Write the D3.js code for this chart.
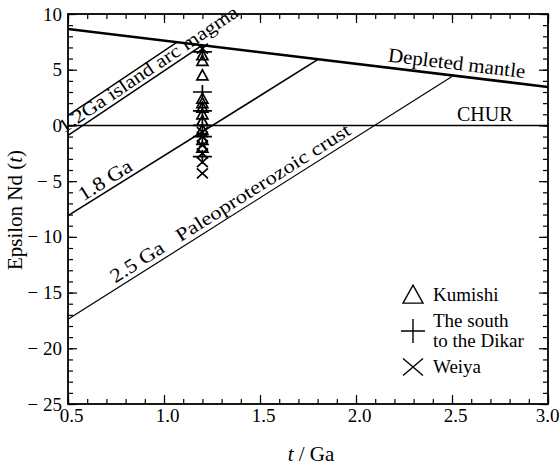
<!DOCTYPE html>
<html>
<head>
<meta charset="utf-8">
<script src="https://cdn.jsdelivr.net/npm/d3@7"></script>
<style>
  body { margin: 0; background: #fff; }
  svg { display: block; }
  text { font-family: "Liberation Serif", "Times New Roman", serif; fill: #000; }
</style>
</head>
<body>
<div id="chart"></div>
<script>
// reference lines (t in Ga, epsilon Nd)
const dmT = [0.5, 3.0], dmE = [8.65, 3.45];
const churT = [0.5, 3.0], churE = [0, 0];
const arcLowT = [0.5, 1.2], arcLowE = [-0.9, 7.2];
const arcHighT = [0.5, 1.07], arcHighE = [0.9, 7.5];
const ga18T = [0.5, 1.8], ga18E = [-8.1, 5.9];
const ga25T = [0.5, 2.5], ga25E = [-17.4, 4.4];

// samples, all at 1.2 Ga
const sampleT = 1.2;
const kumishiE = [6.3, 5.8, 4.5, 2.4, 2.0, 1.6, 1.0, 0.4, -0.4, -1.3, -2.0];
const dikarE = [6.6, 3.0, 1.3, 0.0, -1.0, -2.8];
const weiyaE = [6.9, -0.6, -1.0, -1.8, -2.5, -3.3, -4.3];

const xMajor = [0.5, 1.0, 1.5, 2.0, 2.5, 3.0];
const xMinor = d3.range(5, 31).map(d => d / 10);
const yMajor = [-25, -20, -15, -10, -5, 0, 5, 10];
const yMinor = d3.range(-25, 11);

const width = 560, height = 465;
const box = { left: 68, right: 548, top: 14, bottom: 404 };

const x = d3.scaleLinear().domain([0.5, 3.0]).range([box.left, box.right]);
const y = d3.scaleLinear().domain([-25, 10]).range([box.bottom, box.top]);

const svg = d3.select("#chart").append("svg")
  .attr("width", width)
  .attr("height", height);

svg.append("clipPath").attr("id", "plot")
  .append("rect")
  .attr("x", box.left).attr("y", box.top)
  .attr("width", box.right - box.left).attr("height", box.bottom - box.top);

// axes, ticks pointing inward
function tickAxis(axis, pos, vertical) {
  const g = svg.append("g")
    .attr("transform", vertical ? `translate(${pos},0)` : `translate(0,${pos})`)
    .call(axis);
  g.select(".domain").remove();
  g.selectAll("line").attr("stroke", "#000").attr("stroke-width", 1.2);
  g.attr("font-family", null).attr("font-size", 19);
  return g;
}

tickAxis(d3.axisBottom(x).tickValues(xMinor).tickSizeInner(-5).tickSizeOuter(0).tickFormat(""), box.bottom);
tickAxis(d3.axisBottom(x).tickValues(xMajor).tickSizeInner(-9).tickSizeOuter(0).tickPadding(5)
  .tickFormat(d3.format(".1f")), box.bottom)
  .selectAll("text")
  .attr("text-anchor", d => d === 3.0 ? "end" : "middle")
  .attr("dx", d => d === 3.0 ? 11 : 3);
tickAxis(d3.axisTop(x).tickValues(xMinor).tickSizeInner(-5).tickSizeOuter(0).tickFormat(""), box.top);
tickAxis(d3.axisTop(x).tickValues(xMajor).tickSizeInner(-9).tickSizeOuter(0).tickFormat(""), box.top);

tickAxis(d3.axisLeft(y).tickValues(yMinor).tickSizeInner(-5).tickSizeOuter(0).tickFormat(""), box.left, true);
tickAxis(d3.axisLeft(y).tickValues(yMajor).tickSizeInner(-9).tickSizeOuter(0).tickPadding(6)
  .tickFormat(d => d < 0 ? "\u2212 " + Math.abs(d) : d), box.left, true);
tickAxis(d3.axisRight(y).tickValues(yMinor).tickSizeInner(-5).tickSizeOuter(0).tickFormat(""), box.right, true);
tickAxis(d3.axisRight(y).tickValues(yMajor).tickSizeInner(-9).tickSizeOuter(0).tickFormat(""), box.right, true);

svg.append("rect")
  .attr("x", box.left).attr("y", box.top)
  .attr("width", box.right - box.left).attr("height", box.bottom - box.top)
  .attr("fill", "none").attr("stroke", "#000").attr("stroke-width", 1.8);

// evolution lines
const line = d3.line().x(d => x(d[0])).y(d => y(d[1]));
const lines = svg.append("g").attr("clip-path", "url(#plot)").attr("fill", "none").attr("stroke", "#000");

lines.append("path").attr("d", line(d3.zip(churT, churE))).attr("stroke-width", 1.6);
lines.append("path").attr("d", line(d3.zip(dmT, dmE))).attr("stroke-width", 2.6);
lines.append("path").attr("d", line(d3.zip(arcLowT, arcLowE))).attr("stroke-width", 1.6);
lines.append("path").attr("d", line(d3.zip(arcHighT, arcHighE))).attr("stroke-width", 1.4);
lines.append("path").attr("d", line(d3.zip(ga18T, ga18E))).attr("stroke-width", 1.6);
lines.append("path").attr("d", line(d3.zip(ga25T, ga25E))).attr("stroke-width", 1.2);

// label sitting along a line
function lineLabel(text, T, E, t0, offset, size, len) {
  const x1 = x(T[0]), y1 = y(E[0]), x2 = x(T[1]), y2 = y(E[1]);
  const ang = Math.atan2(y2 - y1, x2 - x1) * 180 / Math.PI;
  const e0 = E[0] + (E[1] - E[0]) * (t0 - T[0]) / (T[1] - T[0]);
  const t = svg.append("text")
    .attr("transform", `translate(${x(t0)},${y(e0)}) rotate(${ang})`)
    .attr("y", -offset)
    .attr("font-size", size)
    .text(text);
  if (len) t.attr("textLength", len).attr("lengthAdjust", "spacingAndGlyphs");
  return t;
}

lineLabel("1.2Ga island arc magma", arcLowT, arcLowE, 0.49, 4, 19, 212);
lineLabel("1.8 Ga", ga18T, ga18E, 0.59, 4, 20, 60);
lineLabel("2.5 Ga", ga25T, ga25E, 0.76, 5, 20, 60);
lineLabel("Paleoproterozoic crust", ga25T, ga25E, 1.1, 5, 19, 203);
lineLabel("Depleted mantle", dmT, dmE, 2.16, 6, 20, 138);

svg.append("text")
  .attr("x", 457).attr("y", 121)
  .attr("font-size", 20)
  .text("CHUR");

// symbols
const tri = (w, h) => `M0,${-h * 0.55}L${w / 2},${h * 0.45}L${-w / 2},${h * 0.45}Z`;
const plus = (w, h) => `M${-w / 2},0H${w / 2}M0,${-h / 2}V${h / 2}`;
const cross = (w, h) => `M${-w / 2},${-h / 2}L${w / 2},${h / 2}M${-w / 2},${h / 2}L${w / 2},${-h / 2}`;

const pts = svg.append("g").attr("fill", "none").attr("stroke", "#000").attr("stroke-width", 1.7);

pts.selectAll(".kum").data(kumishiE).join("path")
  .attr("transform", d => `translate(${x(sampleT)},${y(d)})`)
  .attr("d", tri(11, 10));
pts.selectAll(".dik").data(dikarE).join("path")
  .attr("transform", d => `translate(${x(sampleT)},${y(d)})`)
  .attr("d", plus(19, 14));
pts.selectAll(".wei").data(weiyaE).join("path")
  .attr("transform", d => `translate(${x(sampleT)},${y(d)})`)
  .attr("d", cross(11, 10));

// legend
const legend = svg.append("g");
const legendItems = [
  { path: tri(20, 18), y: 295, label: ["Kumishi"] },
  { path: plus(24, 24), y: 331, label: ["The south", "to the Dikar"] },
  { path: cross(20, 17), y: 367, label: ["Weiya"] }
];
legendItems.forEach(item => {
  legend.append("path")
    .attr("transform", `translate(413,${item.y})`)
    .attr("d", item.path)
    .attr("fill", "none").attr("stroke", "#000").attr("stroke-width", 1.4);
  const n = item.label.length;
  item.label.forEach((s, i) => {
    legend.append("text")
      .attr("x", 433)
      .attr("y", item.y + 6 + (i - (n - 1) / 2) * 20)
      .attr("font-size", 19)
      .text(s);
  });
});

// axis titles
const xt = svg.append("text")
  .attr("x", 311).attr("y", 461)
  .attr("text-anchor", "middle")
  .attr("font-size", 21);
xt.append("tspan").attr("font-style", "italic").text("t");
xt.append("tspan").text(" / Ga");

const yt = svg.append("text")
  .attr("transform", "translate(22,210) rotate(-90)")
  .attr("text-anchor", "middle")
  .attr("font-size", 21);
yt.append("tspan").text("Epsilon Nd (");
yt.append("tspan").attr("font-style", "italic").text("t");
yt.append("tspan").text(")");
</script>
</body>
</html>
